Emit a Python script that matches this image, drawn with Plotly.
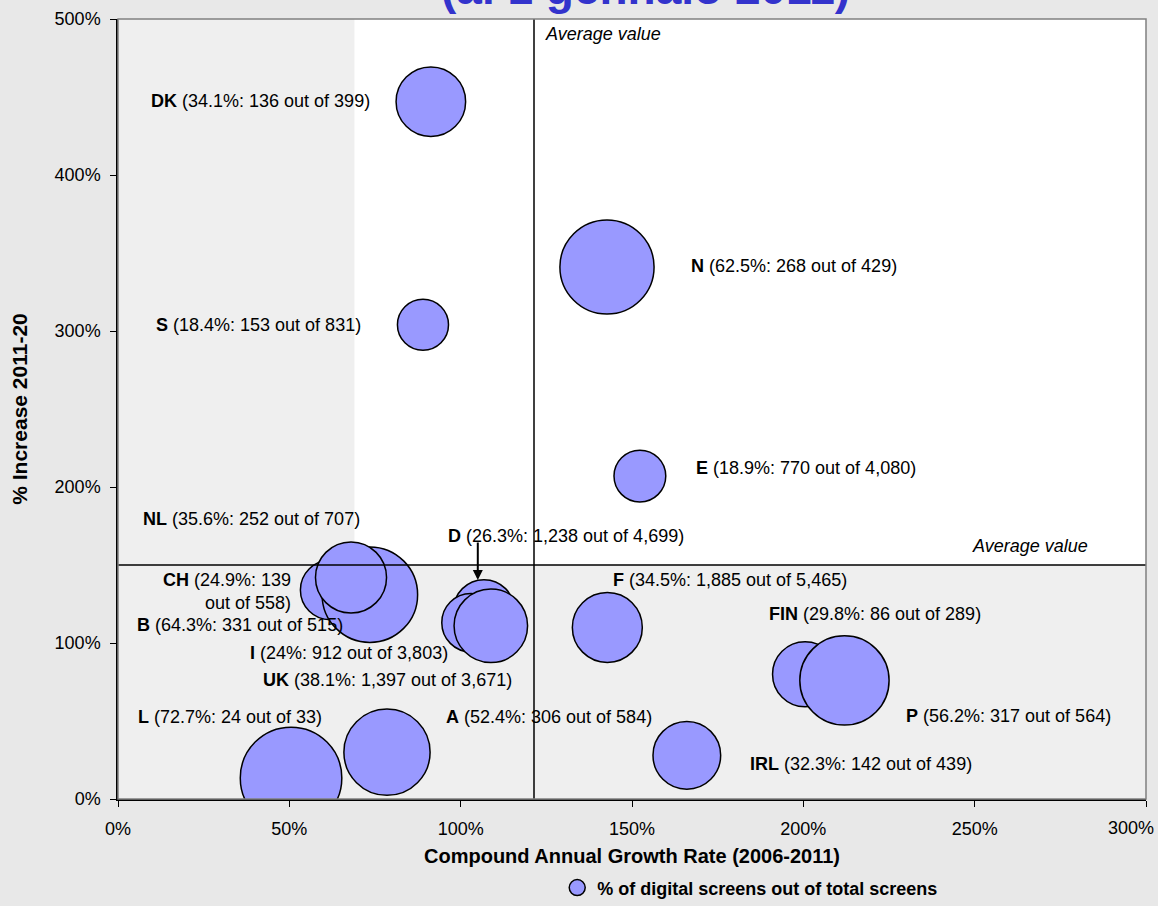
import plotly.graph_objects as go

# ---------------- data ----------------
codes = ["DK", "N", "S", "E", "CH", "B", "NL", "D", "I", "UK", "F", "FIN", "P", "IRL", "A", "L"]
cagr = [91.3, 142.7, 89.0, 152.3, 61.9, 73.5, 68.0, 106.8, 103.0, 108.8, 142.8, 200.5, 212.0, 166.0, 78.5, 50.5]
increase = [447, 341, 304, 207, 134, 131, 142, 121, 113, 111, 110, 80, 76, 28, 30, 13.5]
pct_digital = [34.1, 62.5, 18.4, 18.9, 24.9, 64.3, 35.6, 26.3, 24.0, 38.1, 34.5, 29.8, 56.2, 32.3, 52.4, 72.7]
digital_screens = [136, 268, 153, 770, 139, 331, 252, 1238, 912, 1397, 1885, 86, 317, 142, 306, 24]
total_screens = [399, 429, 831, 4080, 558, 515, 707, 4699, 3803, 3671, 5465, 289, 564, 439, 584, 33]

avg_cagr = 121.4
avg_increase = 150.0

x_ticks = [0, 50, 100, 150, 200, 250, 300]
y_ticks = [0, 100, 200, 300, 400, 500]

title_text = "(al 1 gennaio 2011)"
x_title = "Compound Annual Growth Rate (2006-2011)"
y_title = "% Increase 2011-20"
legend_name = "% of digital screens out of total screens"

# label placement (layout only)
label_pos = {
    "DK": (41.6, 447.4, "center"), "N": (197.4, 341.7, "center"), "S": (41.0, 303.8, "center"),
    "E": (200.9, 212.2, "center"), "NL": (39.1, 179.5, "center"), "D": (130.6, 168.6, "center"),
    "CH": (51.1, 132.7, "right"), "B": (35.7, 111.5, "center"), "I": (67.3, 93.6, "center"),
    "UK": (78.6, 76.3, "center"), "L": (32.7, 52.6, "center"), "A": (125.8, 52.6, "center"),
    "F": (178.6, 140.4, "center"), "FIN": (220.9, 118.6, "center"), "P": (259.8, 53.2, "center"),
    "IRL": (216.7, 22.4, "center"),
}
break_labels = {"CH"}

FONT = "Liberation Sans, Arial, sans-serif"

fig = go.Figure()

fig.add_trace(go.Scatter(
    x=cagr, y=increase, mode="markers", name=f"<b>{legend_name}</b>",
    marker=dict(size=pct_digital, sizemode="area", sizeref=0.0141,
                color="#9999ff", line=dict(color="black", width=1.5), opacity=1),
    hoverinfo="skip", showlegend=True, cliponaxis=True,
))

annotations = []
for c, p, d, t in zip(codes, pct_digital, digital_screens, total_screens):
    if c in break_labels:
        txt = f"<b>{c}</b> ({p:g}%: {d:,}<br>out of {t:,})"
    else:
        txt = f"<b>{c}</b> ({p:g}%: {d:,} out of {t:,})"
    lx, ly, anc = label_pos[c]
    annotations.append(dict(x=lx, y=ly, xref="x", yref="y", text=txt, showarrow=False,
                            xanchor=anc, yanchor="middle", align="right" if anc == "right" else "left",
                            font=dict(family=FONT, size=18, color="black")))

# arrow to D bubble
annotations.append(dict(x=105.0, y=140.4, xref="x", yref="y", text="", showarrow=True,
                        ax=0, ay=-39, arrowhead=2, arrowsize=1, arrowwidth=2, arrowcolor="black"))

# average labels
annotations.append(dict(x=124.0, y=490.4, xref="x", yref="y", text="<i>Average value</i>", showarrow=False,
                        xanchor="left", yanchor="middle", font=dict(family=FONT, size=18, color="black")))
annotations.append(dict(x=283.6, y=162.2, xref="x", yref="y", text="<i>Average value</i>", showarrow=False,
                        xanchor="right", yanchor="middle", font=dict(family=FONT, size=18, color="black")))

# last x tick label, kept inside the page like the original
annotations.append(dict(x=x_ticks[-1], y=0, xref="x", yref="paper", text=f"{x_ticks[-1]}%", showarrow=False,
                        xanchor="right", yanchor="middle", xshift=10, yshift=-29,
                        font=dict(family=FONT, size=18, color="black")))

# title (partly above the page, as in the original)
annotations.append(dict(x=0.513, y=1, xref="paper", yref="paper", text=f"<b>{title_text}</b>", showarrow=False,
                        xanchor="center", yanchor="bottom", yshift=3,
                        font=dict(family=FONT, size=46, color="#3333cc")))

shapes = [
    # background light area (upper part of plot)
    dict(type="rect", xref="x", yref="y", x0=69, x1=300, y0=avg_increase, y1=500,
         fillcolor="white", line=dict(width=0), layer="below"),
    # average lines
    dict(type="line", xref="x", yref="y", x0=avg_cagr, x1=avg_cagr, y0=0, y1=500,
         line=dict(color="black", width=1.5)),
    dict(type="line", xref="x", yref="y", x0=0, x1=300, y0=avg_increase, y1=avg_increase,
         line=dict(color="black", width=1.5)),
    # frame
    dict(type="rect", xref="paper", yref="paper", x0=0, x1=1, y0=0, y1=1,
         line=dict(color="#808080", width=1.5), layer="above"),
]

x_ticktext = [f"{v}%" for v in x_ticks[:-1]] + [""]

fig.update_layout(
    width=1158, height=906,
    margin=dict(l=118, r=12, t=19, b=107, autoexpand=False),
    paper_bgcolor="#e8e8e8", plot_bgcolor="#efefef",
    font=dict(family=FONT, size=18, color="black"),
    annotations=annotations, shapes=shapes,
    showlegend=True,
    legend=dict(x=0.615, y=-0.114, xanchor="center", yanchor="middle", orientation="h",
                bgcolor="rgba(0,0,0,0)", font=dict(family=FONT, size=18, color="black"),
                itemsizing="trace"),
    hovermode=False,
)
fig.update_xaxes(range=[0, 300], tickvals=x_ticks, ticktext=x_ticktext,
                 showgrid=False, zeroline=False, showline=True, linecolor="black", linewidth=1.5,
                 ticks="outside", ticklen=6, tickcolor="black", ticklabelstandoff=7,
                 tickfont=dict(size=18),
                 title=dict(text=f"<b>{x_title}</b>", font=dict(size=20), standoff=11))
fig.update_yaxes(range=[0, 500], tickvals=y_ticks, ticktext=[f"{v}%" for v in y_ticks],
                 showgrid=False, zeroline=False, showline=True, linecolor="black", linewidth=1.5,
                 ticks="outside", ticklen=6, tickcolor="black", ticklabelstandoff=6,
                 tickfont=dict(size=18),
                 title=dict(text=f"<b>{y_title}</b>", font=dict(size=21), standoff=21))

fig.write_html("out.html", config={"displayModeBar": False},
               post_script="document.body.style.margin='0px';document.body.style.background='#e8e8e8';")
